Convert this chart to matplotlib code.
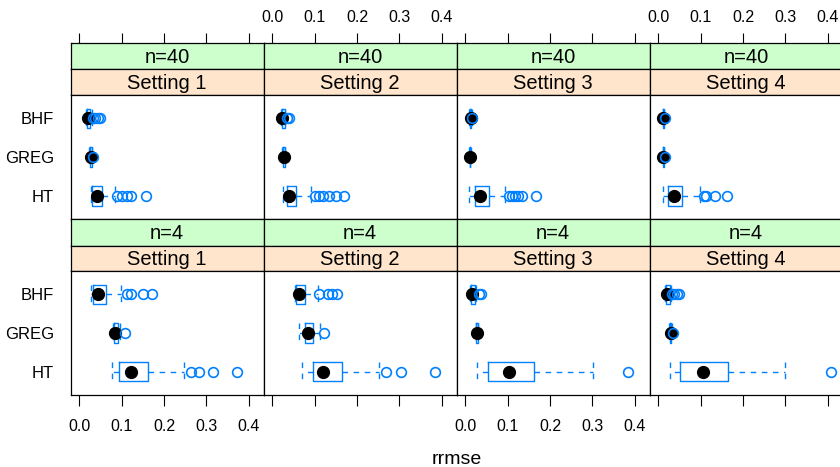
import matplotlib
matplotlib.use("Agg")
import matplotlib.pyplot as plt

plt.rcParams["font.family"] = ["Liberation Sans", "DejaVu Sans"]

methods = ["BHF", "GREG", "HT"]
settings = ["Setting 1", "Setting 2", "Setting 3", "Setting 4"]
sizes = ["n=40", "n=4"]
xticks = [0.0, 0.1, 0.2, 0.3, 0.4]

# box statistics, [setting][method] with methods BHF, GREG, HT
med_n40 = [[0.021, 0.027, 0.041], [0.024, 0.027, 0.040],
           [0.0125, 0.011, 0.035], [0.012, 0.012, 0.037]]
q1_n40 = [[0.019, 0.025, 0.029], [0.022, 0.025, 0.034],
          [0.011, 0.010, 0.023], [0.011, 0.011, 0.024]]
q3_n40 = [[0.025, 0.029, 0.054], [0.029, 0.029, 0.056],
          [0.014, 0.012, 0.057], [0.013, 0.013, 0.055]]
lo_n40 = [[0.016, 0.023, 0.027], [0.020, 0.024, 0.0245],
          [0.009, 0.009, 0.0094], [0.010, 0.010, 0.012]]
hi_n40 = [[0.029, 0.031, 0.085], [0.031, 0.031, 0.091],
          [0.016, 0.013, 0.094], [0.014, 0.014, 0.098]]
out_n40 = [[[0.033, 0.038, 0.043, 0.048], [0.033], [0.088, 0.100, 0.112, 0.122, 0.157]],
           [[0.034, 0.039], [], [0.101, 0.110, 0.120, 0.134, 0.150, 0.170]],
           [[0.0165], [], [0.102, 0.109, 0.117, 0.125, 0.133, 0.167]],
           [[0.0155], [0.0155], [0.108, 0.112, 0.133, 0.161]]]

med_n4 = [[0.045, 0.084, 0.122], [0.064, 0.085, 0.120],
          [0.015, 0.028, 0.104], [0.020, 0.029, 0.106]]
q1_n4 = [[0.033, 0.082, 0.094], [0.056, 0.077, 0.095],
         [0.0127, 0.026, 0.054], [0.018, 0.027, 0.051]]
q3_n4 = [[0.062, 0.092, 0.163], [0.077, 0.095, 0.164],
         [0.023, 0.030, 0.162], [0.028, 0.031, 0.164]]
lo_n4 = [[0.0276, 0.079, 0.078], [0.0535, 0.064, 0.069],
         [0.010, 0.025, 0.027], [0.016, 0.026, 0.028]]
hi_n4 = [[0.0976, 0.096, 0.248], [0.108, 0.1125, 0.252],
         [0.025, 0.031, 0.302], [0.030, 0.032, 0.299]]
out_n4 = [[[0.112, 0.122, 0.151, 0.172], [0.107], [0.263, 0.283, 0.315, 0.371]],
          [[0.110, 0.132, 0.142, 0.153], [0.123], [0.268, 0.303, 0.384]],
          [[0.033, 0.038], [], [0.383]],
          [[0.032, 0.038, 0.044, 0.050], [0.034], [0.408]]]

rows = [(med_n40, q1_n40, q3_n40, lo_n40, hi_n40, out_n40),
        (med_n4, q1_n4, q3_n4, lo_n4, hi_n4, out_n4)]

W, H = 840, 467
BLUE = "#0080ff"
XLIM = (-0.0203, 0.435)

fig = plt.figure(figsize=(W / 100, H / 100), dpi=100)


def add_ax(x0, y0, x1, y1):
    # pixel box (top-left origin) -> figure axes
    return fig.add_axes([x0 / W, 1 - y1 / H, (x1 - x0) / W, (y1 - y0) / H])


row_px = [(42.7, 69.3, 95, 219.3), (219.3, 246, 271, 395)]
col_w = 193
left0 = 70.7

for r, (g0, o0, p0, p1) in enumerate(row_px):
    med, q1, q3, lo, hi, out = rows[r]
    for c in range(4):
        x0 = left0 + c * col_w
        x1 = x0 + col_w

        # strips
        for (ya, yb, col, label) in [(g0, o0, "#ccffcc", sizes[r]),
                                     (o0, p0, "#ffe5cc", settings[c])]:
            s = add_ax(x0, ya, x1, yb)
            s.set_facecolor(col)
            s.set_xlim(XLIM)
            s.set_yticks([])
            s.set_xticks([])
            s.text(0.5, 0.45, label, transform=s.transAxes, ha="center",
                   va="center", fontsize=14.5)
            for sp in s.spines.values():
                sp.set_linewidth(0.9)
            if r == 0 and col == "#ccffcc":
                s.xaxis.tick_top()
                s.set_xticks(xticks)
                s.set_xticklabels([f"{t:.1f}" for t in xticks] if c in (1, 3)
                                  else [""] * 5)
                s.tick_params(axis="x", length=7, width=0.8, pad=6,
                              labelsize=11.5)

        ax = add_ax(x0, p0, x1, p1)
        stats = []
        for m in range(3):
            stats.append(dict(med=med[c][m], q1=q1[c][m], q3=q3[c][m],
                              whislo=lo[c][m], whishi=hi[c][m],
                              fliers=out[c][m]))
        ax.bxp(stats, positions=[1, 2, 3], widths=0.5, capwidths=0.5,
               orientation="horizontal", patch_artist=False,
               boxprops=dict(color=BLUE, linewidth=1),
               whiskerprops=dict(color=BLUE, linewidth=1,
                                 linestyle=(0, (4, 4))),
               capprops=dict(color=BLUE, linewidth=1,
                             linestyle=(0, (4, 4))),
               medianprops=dict(visible=False),
               flierprops=dict(marker="o", markerfacecolor="none",
                               markeredgecolor=BLUE, markersize=7,
                               markeredgewidth=1.2, zorder=4))
        ax.plot(med[c], [1, 2, 3], "o", color="black", markersize=8.5,
                zorder=3)
        ax.set_xlim(XLIM)
        ax.set_ylim(3.6, 0.4)
        for sp in ax.spines.values():
            sp.set_linewidth(0.9)

        if c == 0:
            ax.set_yticks([1, 2, 3])
            ax.set_yticklabels(methods)
            ax.tick_params(axis="y", length=0, pad=12, labelsize=12)
        else:
            ax.set_yticks([])

        if r == 1:
            ax.set_xticks(xticks)
            ax.set_xticklabels([f"{t:.1f}" for t in xticks] if c in (0, 2)
                               else [""] * 5)
            ax.tick_params(axis="x", length=8, width=0.8, pad=9,
                           labelsize=11.5)
        else:
            ax.set_xticks([])

fig.text((left0 + 2 * col_w) / W, 1 - 460 / H, "rrmse", ha="center",
         va="center", fontsize=14)

fig.savefig("out.png", dpi=100)
